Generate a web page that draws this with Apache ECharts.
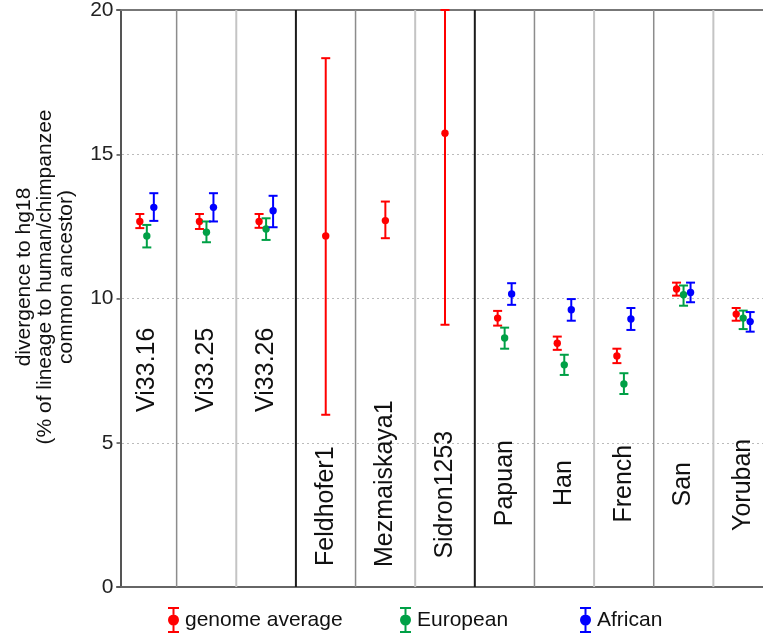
<!DOCTYPE html>
<html><head><meta charset="utf-8">
<script src="https://cdn.jsdelivr.net/npm/echarts@6/dist/echarts.min.js"></script>
<style>html,body{margin:0;padding:0;background:#fff}#c{width:763px;height:637px}</style>
</head><body><div id="c"></div>
<script>
// ---- data ----
const categories = ['Vi33.16','Vi33.25','Vi33.26','Feldhofer1','Mezmaiskaya1','Sidron1253','Papuan','Han','French','San','Yoruban'];
const genomeAvg      = [12.67, 12.67, 12.67, 12.17, 12.70, 15.73, 9.32, 8.45, 8.01, 10.33, 9.46];
const genomeLow      = [12.44, 12.41, 12.45,  5.97, 12.09,  9.09, 9.06, 8.22, 7.76, 10.10, 9.23];
const genomeHigh     = [12.93, 12.93, 12.93, 18.33, 13.36, 20.00, 9.57, 8.68, 8.26, 10.55, 9.67];
const european       = [12.17, 12.30, 12.41, null, null, null, 8.63, 7.70, 7.04, 10.13, 9.32];
const europeanLow    = [11.77, 11.95, 12.03, null, null, null, 8.26, 7.35, 6.69,  9.75, 8.94];
const europeanHigh   = [12.55, 12.67, 12.78, null, null, null, 8.99, 8.05, 7.41, 10.45, 9.58];
const african        = [13.16, 13.16, 13.04, null, null, null, 10.16, 9.61, 9.29, 10.21, 9.20];
const africanLow     = [12.69, 12.67, 12.47, null, null, null,  9.78, 9.23, 8.91,  9.87, 8.85];
const africanHigh    = [13.65, 13.65, 13.56, null, null, null, 10.53, 9.98, 9.67, 10.55, 9.53];
const yTicks = [0, 5, 10, 15, 20];
const seriesNames = ['genome average', 'European', 'African'];

// ---- layout (label anchor heights, in axis units) ----
const labelPos = [7.53, 7.53, 7.53, 2.8, 3.58, 3.2, 3.6, 3.6, 3.58, 3.56, 3.54];

const FONT = '"Liberation Sans", Arial, sans-serif';
const COLORS = ['#ff0000', '#00a046', '#0000ff'];
const ICON = 'path://M0 0H11V2H0Z M4.5 2H6.5V7.5H4.5Z M4.5 18.5H6.5V24H4.5Z M0 24H11V26H0Z M0 13A5.5 5.5 0 1 0 11 13A5.5 5.5 0 1 0 0 13Z';

function errData(v, lo, hi) {
  const out = [];
  v.forEach((x, i) => { if (x != null) out.push([i, x, lo[i], hi[i]]); });
  return out;
}

function errRender(color, offsetFn) {
  return function (params, api) {
    const ci = api.value(0);
    const off = offsetFn(ci);
    const c = api.coord([ci, api.value(1)]);
    const lo = api.coord([ci, api.value(2)]);
    const hi = api.coord([ci, api.value(3)]);
    const x = c[0] + off;
    const cw = 4.5;
    const st = { stroke: color, lineWidth: 2 };
    return {
      type: 'group', children: [
        { type: 'line', shape: { x1: x, y1: lo[1], x2: x, y2: hi[1] }, style: st },
        { type: 'line', shape: { x1: x - cw, y1: hi[1], x2: x + cw, y2: hi[1] }, style: st },
        { type: 'line', shape: { x1: x - cw, y1: lo[1], x2: x + cw, y2: lo[1] }, style: st },
        { type: 'circle', shape: { cx: x, cy: c[1], r: 3.7 }, style: { fill: color } }
      ]
    };
  };
}

const chart = echarts.init(document.getElementById('c'), null, { renderer: 'canvas' });

const legendBase = {
  orient: 'horizontal', top: 607, itemWidth: 11, itemHeight: 26, padding: 0,
  selectedMode: false,
  textStyle: { fontSize: 21, fontFamily: FONT, color: '#111', padding: [0, 0, 0, 1] }
};

const option = {
  animation: false,
  backgroundColor: '#fff',
  grid: { left: 117, top: 10, width: 656, height: 577, containLabel: false, outerBoundsMode: 'none' },
  legend: [
    Object.assign({}, legendBase, { left: 168, data: [{ name: seriesNames[0], icon: ICON }] }),
    Object.assign({}, legendBase, { left: 400, data: [{ name: seriesNames[1], icon: ICON }] }),
    Object.assign({}, legendBase, { left: 580, data: [{ name: seriesNames[2], icon: ICON }] })
  ],
  xAxis: [
    {
      type: 'category', data: categories, boundaryGap: true, position: 'bottom',
      axisLine: { show: true, lineStyle: { color: '#666', width: 2 } },
      axisTick: { show: false }, axisLabel: { show: false }, splitLine: { show: false }
    },
    {
      type: 'category', data: categories, boundaryGap: true, position: 'top',
      axisLine: { show: true, lineStyle: { color: '#777', width: 2 } },
      axisTick: { show: false }, axisLabel: { show: false }, splitLine: { show: false }
    }
  ],
  yAxis: {
    type: 'value', min: yTicks[0], max: yTicks[yTicks.length - 1], interval: 5, offset: -3.5,
    axisLine: { show: true, lineStyle: { color: '#555', width: 2 } },
    axisTick: { show: true, length: 4, lineStyle: { color: '#555', width: 1.5 } },
    axisLabel: { fontSize: 21, color: '#222', fontFamily: FONT, margin: 7 },
    splitLine: { show: true, lineStyle: { color: '#bbb', type: [2, 3], width: 1 } }
  },
  graphic: [{
    type: 'text', x: 45, y: 277, rotation: Math.PI / 2,
    style: {
      text: 'divergence to hg18\n(% of lineage to human/chimpanzee\ncommon ancestor)',
      fontSize: 21, fontFamily: FONT, fill: '#111', align: 'center', verticalAlign: 'middle', lineHeight: 21
    }
  }],
  series: [
    {
      type: 'custom', name: 'separators', silent: true, z: 1,
      data: categories.map((c, i) => [i, 0]).slice(1),
      encode: { x: 0, y: 1 },
      renderItem: function (params, api) {
        const ci = api.value(0);
        const w = api.size([1, 0])[0];
        const top = api.coord([ci, 20]);
        const bot = api.coord([ci, 0]);
        const x = top[0] - w / 2;
        let stroke = '#8c8c8c', lw = 1.5;
        if (ci === 3 || ci === 6) { stroke = '#1a1a1a'; lw = 2; }
        else if (ci % 3 === 2 || ci === 10) { stroke = '#c4c4c4'; lw = 2; }
        if (ci === 9) { stroke = '#8c8c8c'; lw = 1.5; }
        return { type: 'line', shape: { x1: x, y1: top[1], x2: x, y2: bot[1] }, style: { stroke: stroke, lineWidth: lw } };
      }
    },
    {
      type: 'custom', name: 'labels', silent: true, z: 2,
      data: categories.map((c, i) => [i, labelPos[i]]),
      encode: { x: 0, y: 1 },
      renderItem: function (params, api) {
        const ci = api.value(0);
        const p = api.coord([ci, api.value(1)]);
        return {
          type: 'text', x: p[0], y: p[1], rotation: Math.PI / 2,
          style: { text: categories[ci], fontSize: 25, fontFamily: FONT, fill: '#111', align: 'center', verticalAlign: 'middle' }
        };
      }
    },
    {
      type: 'custom', name: seriesNames[0], z: 3, itemStyle: { color: COLORS[0] },
      data: errData(genomeAvg, genomeLow, genomeHigh), encode: { x: 0, y: 1 },
      renderItem: errRender(COLORS[0], ci => (european[ci] == null ? 0 : -7))
    },
    {
      type: 'custom', name: seriesNames[1], z: 4, itemStyle: { color: COLORS[1] },
      data: errData(european, europeanLow, europeanHigh), encode: { x: 0, y: 1 },
      renderItem: errRender(COLORS[1], ci => 0)
    },
    {
      type: 'custom', name: seriesNames[2], z: 5, itemStyle: { color: COLORS[2] },
      data: errData(african, africanLow, africanHigh), encode: { x: 0, y: 1 },
      renderItem: errRender(COLORS[2], ci => 7)
    }
  ]
};
chart.setOption(option);
</script>
</body></html>
